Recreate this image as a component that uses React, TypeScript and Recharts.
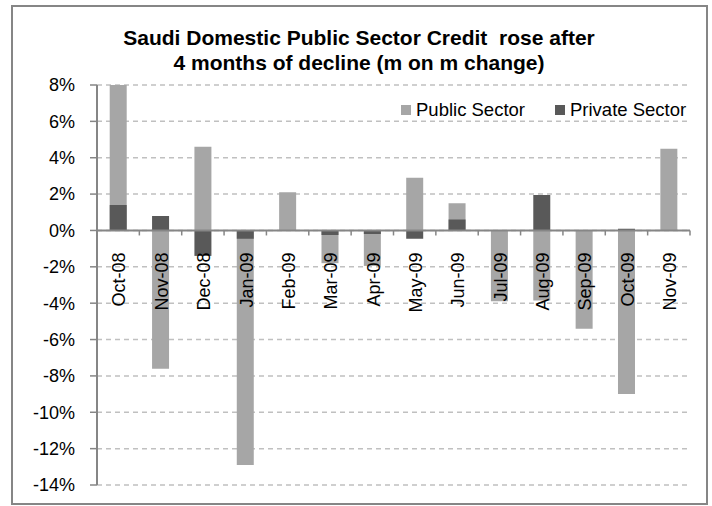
import React from "react";
import {
  BarChart,
  Bar,
  XAxis,
  YAxis,
  CartesianGrid,
  ReferenceLine,
  Legend,
} from "recharts";

const months = [
  "Oct-08", "Nov-08", "Dec-08", "Jan-09", "Feb-09", "Mar-09", "Apr-09",
  "May-09", "Jun-09", "Jul-09", "Aug-09", "Sep-09", "Oct-09", "Nov-09",
];
const seriesNames = ["Public Sector", "Private Sector"];
const publicSector = [8.0, -7.6, 4.6, -12.9, 2.1, -1.8, -1.95, 2.9, 1.5, -3.9, -3.85, -5.4, -9.0, 4.5];
const privateSector = [1.4, 0.8, -1.4, -0.45, 0.0, -0.25, -0.2, -0.45, 0.6, 0.0, 1.95, 0.0, 0.1, 0.0];
const yTicks = [-14, -12, -10, -8, -6, -4, -2, 0, 2, 4, 6, 8];

const W = 712;
const H = 506;
const MARGIN = { top: 85, right: 22, bottom: 20, left: 37 };
const Y_AXIS_W = 60;
const PLOT_W = W - MARGIN.left - MARGIN.right - Y_AXIS_W;
const PLOT_H = H - MARGIN.top - MARGIN.bottom - 1;
const Y_MIN = -14;
const Y_MAX = 8;
const ZERO_Y = MARGIN.top + (Y_MAX / (Y_MAX - Y_MIN)) * PLOT_H;

const AXIS_COLOR = "#868686";
const FONT = "'Liberation Sans', Arial, sans-serif";
const FS = 18;

const data = months.map((m, i) => ({
  month: m,
  public: publicSector[i],
  private: privateSector[i],
}));

const MonthTick = (props: any) => {
  const { x, payload, index } = props;
  const band = PLOT_W / months.length;
  const left = x - band / 2;
  return (
    <g>
      <line x1={left} x2={left} y1={ZERO_Y} y2={ZERO_Y + 5} stroke={AXIS_COLOR} strokeWidth={1.5} />
      {index === months.length - 1 && (
        <line x1={x + band / 2} x2={x + band / 2} y1={ZERO_Y} y2={ZERO_Y + 5} stroke={AXIS_COLOR} strokeWidth={1.5} />
      )}
      <text
        transform={`translate(${x + 1},${ZERO_Y + 22}) rotate(-90)`}
        textAnchor="end"
        dy="0.35em"
        fontSize={FS}
        fill="#000"
      >
        {payload.value}
      </text>
    </g>
  );
};

const LegendBox = (props: any) => {
  const items = [...(props.payload || [])].sort(
    (a: any, b: any) => seriesNames.indexOf(a.value) - seriesNames.indexOf(b.value)
  );
  return (
    <div style={{ display: "flex", fontFamily: FONT, fontSize: 18.5, color: "#000" }}>
      {items.map((p: any, i: number) => (
        <div key={p.value} style={{ display: "flex", alignItems: "center", marginRight: i === 0 ? 30 : 0 }}>
          <span style={{ width: 10, height: 10, background: p.color, display: "inline-block", marginRight: 5 }} />
          <span>{p.value}</span>
        </div>
      ))}
    </div>
  );
};

export default function App() {
  return (
    <div style={{ position: "absolute", left: 0, top: 0, width: W, height: H, background: "#fff" }}>
      <div
        style={{
          position: "absolute",
          left: 11,
          top: 5,
          width: 697,
          height: 500,
          border: `2px solid ${AXIS_COLOR}`,
          boxSizing: "border-box",
        }}
      />
      <div
        style={{
          position: "absolute",
          left: 0,
          width: 718,
          top: 25,
          textAlign: "center",
          fontFamily: FONT,
          fontWeight: "bold",
          fontSize: 21,
          lineHeight: "25px",
        }}
      >
        Saudi Domestic Public Sector Credit&nbsp; rose after
        <br />
        4 months of decline (m on m change)
      </div>
      <div style={{ position: "absolute", left: 0, top: 0 }}>
        <BarChart
          width={W}
          height={H}
          data={data}
          margin={MARGIN}
          barCategoryGap="30%"
          style={{ fontFamily: FONT }}
        >
          <CartesianGrid xAxisId="pub" vertical={false} stroke="#c0c0c0" strokeDasharray="5 4" strokeWidth={1.5} />
          <XAxis
            xAxisId="pub"
            dataKey="month"
            height={1}
            axisLine={false}
            tickLine={false}
            interval={0}
            tick={<MonthTick />}
          />
          <XAxis xAxisId="priv" dataKey="month" hide />
          <YAxis
            width={Y_AXIS_W}
            domain={[Y_MIN, Y_MAX]}
            ticks={yTicks}
            tickFormatter={(v: number) => `${v}%`}
            axisLine={{ stroke: AXIS_COLOR, strokeWidth: 2 }}
            tickLine={{ stroke: AXIS_COLOR, strokeWidth: 1.5 }}
            tickSize={7}
            tickMargin={15}
            tick={{ fontSize: FS, fill: "#000" }}
            allowDataOverflow
          />
          <Legend
            layout="vertical"
            align="center"
            verticalAlign="middle"
            content={<LegendBox />}
            wrapperStyle={{ left: 401, top: 99, width: 310 }}
          />
          <Bar xAxisId="pub" dataKey="public" name="Public Sector" fill="#a6a6a6" isAnimationActive={false} />
          <Bar xAxisId="priv" dataKey="private" name="Private Sector" fill="#595959" isAnimationActive={false} />
          <ReferenceLine xAxisId="pub" y={0} stroke={AXIS_COLOR} strokeWidth={2} />
        </BarChart>
      </div>
    </div>
  );
}
